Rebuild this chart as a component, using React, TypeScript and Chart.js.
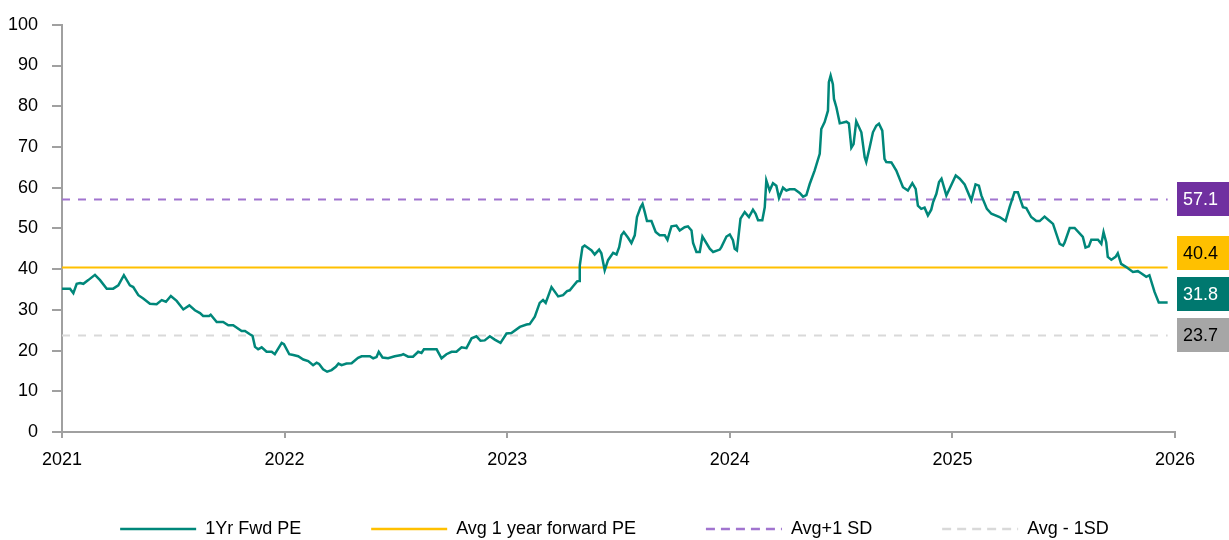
import React, { useEffect, useRef } from "react";
import { Chart, registerables } from "chart.js";

Chart.register(...registerables);

// ---- data ----
const xTickYears = [2021, 2022, 2023, 2024, 2025, 2026];
const yTickValues = [0, 10, 20, 30, 40, 50, 60, 70, 80, 90, 100];

const peDates = [
  2021.000, 2021.036, 2021.051, 2021.066, 2021.081, 2021.096, 2021.118, 2021.148, 2021.171, 2021.201,
  2021.230, 2021.253, 2021.278, 2021.305, 2021.320, 2021.343, 2021.365, 2021.395, 2021.425, 2021.448,
  2021.467, 2021.489, 2021.515, 2021.545, 2021.572, 2021.597, 2021.620, 2021.634, 2021.661, 2021.668,
  2021.695, 2021.724, 2021.747, 2021.769, 2021.807, 2021.822, 2021.844, 2021.856, 2021.867, 2021.881,
  2021.897, 2021.919, 2021.942, 2021.956, 2021.987, 2021.997, 2022.021, 2022.039, 2022.061, 2022.084,
  2022.106, 2022.128, 2022.144, 2022.155, 2022.173, 2022.191, 2022.211, 2022.230, 2022.242, 2022.256,
  2022.278, 2022.301, 2022.330, 2022.346, 2022.383, 2022.398, 2022.413, 2022.423, 2022.440, 2022.465,
  2022.495, 2022.525, 2022.533, 2022.555, 2022.577, 2022.600, 2022.615, 2022.626, 2022.683, 2022.705,
  2022.727, 2022.750, 2022.772, 2022.795, 2022.817, 2022.840, 2022.862, 2022.880, 2022.899, 2022.922,
  2022.944, 2022.970, 2022.997, 2023.019, 2023.057, 2023.087, 2023.101, 2023.124, 2023.146, 2023.161,
  2023.173, 2023.199, 2023.229, 2023.251, 2023.269, 2023.281, 2023.296, 2023.314, 2023.323, 2023.326,
  2023.338, 2023.348, 2023.379, 2023.393, 2023.413, 2023.423, 2023.438, 2023.453, 2023.476, 2023.491,
  2023.503, 2023.513, 2023.524, 2023.543, 2023.558, 2023.573, 2023.583, 2023.599, 2023.608, 2023.618,
  2023.628, 2023.648, 2023.667, 2023.685, 2023.708, 2023.720, 2023.730, 2023.738, 2023.760, 2023.775,
  2023.797, 2023.812, 2023.828, 2023.835, 2023.850, 2023.865, 2023.877, 2023.910, 2023.925, 2023.955,
  2023.962, 2023.985, 2024.000, 2024.014, 2024.022, 2024.032, 2024.048, 2024.067, 2024.086, 2024.104,
  2024.116, 2024.127, 2024.146, 2024.157, 2024.164, 2024.179, 2024.194, 2024.209, 2024.221, 2024.239,
  2024.254, 2024.269, 2024.291, 2024.314, 2024.329, 2024.344, 2024.359, 2024.381, 2024.404, 2024.411,
  2024.426, 2024.441, 2024.445, 2024.453, 2024.463, 2024.468, 2024.479, 2024.494, 2024.524, 2024.535,
  2024.542, 2024.546, 2024.556, 2024.568, 2024.591, 2024.606, 2024.613, 2024.628, 2024.643, 2024.658,
  2024.670, 2024.685, 2024.695, 2024.703, 2024.726, 2024.748, 2024.778, 2024.800, 2024.820, 2024.835,
  2024.845, 2024.860, 2024.875, 2024.890, 2024.905, 2024.913, 2024.928, 2024.940, 2024.951, 2024.973,
  2025.015, 2025.033, 2025.055, 2025.085, 2025.104, 2025.119, 2025.130, 2025.155, 2025.175, 2025.212,
  2025.239, 2025.257, 2025.279, 2025.294, 2025.317, 2025.332, 2025.354, 2025.377, 2025.392, 2025.414,
  2025.429, 2025.452, 2025.482, 2025.497, 2025.504, 2025.527, 2025.549, 2025.586, 2025.598, 2025.613,
  2025.624, 2025.654, 2025.669, 2025.679, 2025.691, 2025.698, 2025.714, 2025.733, 2025.743, 2025.758,
  2025.781, 2025.811, 2025.833, 2025.848, 2025.871, 2025.885, 2025.908, 2025.927, 2025.967,
];

const peValues = [
  35.2, 35.2, 34.1, 36.4, 36.6, 36.4, 37.3, 38.6, 37.3, 35.2,
  35.2, 36.0, 38.5, 36.0, 35.6, 33.6, 32.8, 31.5, 31.4, 32.4,
  32.0, 33.4, 32.2, 30.1, 31.1, 29.9, 29.2, 28.5, 28.5, 28.8,
  27.0, 27.0, 26.2, 26.2, 24.8, 24.8, 24.0, 23.6, 20.9, 20.3,
  20.8, 19.7, 19.7, 19.1, 21.9, 21.6, 19.1, 18.9, 18.6, 17.8,
  17.4, 16.4, 17.0, 16.7, 15.4, 14.8, 15.2, 16.0, 16.8, 16.4,
  16.8, 16.9, 18.2, 18.6, 18.6, 18.1, 18.4, 19.7, 18.3, 18.1,
  18.6, 18.9, 19.1, 18.5, 18.5, 19.7, 19.4, 20.3, 20.3, 18.1,
  19.1, 19.7, 19.7, 20.8, 20.6, 23.0, 23.5, 22.4, 22.5, 23.5,
  22.7, 21.9, 24.2, 24.3, 25.8, 26.4, 26.5, 28.3, 31.7, 32.4,
  31.7, 35.6, 33.3, 33.6, 34.6, 34.8, 35.8, 37.0, 37.1, 40.9,
  45.4, 45.8, 44.6, 43.6, 44.8, 43.9, 39.7, 42.2, 44.0, 43.6,
  45.4, 48.3, 49.1, 47.7, 46.4, 48.3, 52.8, 55.2, 56.0, 54.0,
  51.8, 51.8, 49.1, 48.3, 48.3, 47.2, 49.1, 50.5, 50.7, 49.5,
  50.3, 50.5, 49.5, 46.4, 44.2, 44.2, 48.0, 45.0, 44.2, 44.8,
  45.4, 48.0, 48.5, 47.1, 45.0, 44.6, 52.4, 54.0, 52.8, 54.6,
  53.6, 52.0, 52.0, 55.2, 61.8, 59.3, 61.1, 60.5, 57.5, 60.0,
  59.3, 59.6, 59.6, 58.7, 57.8, 58.2, 60.9, 64.2, 68.3, 74.4,
  76.1, 78.9, 85.9, 87.5, 85.4, 81.8, 79.7, 75.8, 76.2, 75.8,
  72.0, 69.8, 70.7, 76.3, 73.6, 67.5, 66.3, 69.8, 73.6, 75.2,
  75.7, 74.0, 67.1, 66.3, 66.2, 64.2, 60.1, 59.3, 61.1, 59.7,
  55.6, 54.8, 55.1, 53.2, 54.6, 56.4, 58.5, 61.4, 62.2, 58.1,
  63.0, 62.2, 60.8, 56.9, 60.8, 60.5, 58.1, 54.8, 53.6, 52.8,
  51.8, 55.2, 58.9, 58.9, 55.2, 55.0, 52.8, 51.8, 51.8, 52.9,
  52.2, 51.1, 46.2, 45.8, 46.5, 50.1, 50.1, 47.9, 45.3, 45.6,
  47.2, 47.2, 46.2, 49.1, 46.6, 43.0, 42.3, 43.0, 43.9, 41.3,
  40.5, 39.3, 39.5, 39.0, 38.1, 38.5, 34.4, 31.8, 31.8,
];

const avgPE = 40.4;
const plusOneSD = 57.1;
const minusOneSD = 23.7;
const latestPE = 31.8;

const seriesLabels = ["1Yr Fwd PE", "Avg 1 year forward PE", "Avg+1 SD", "Avg - 1SD"];

// ---- styles ----
const TEAL = "#00877A";
const TEAL_BOX = "#00786F";
const YELLOW = "#FFC000";
const PURPLE_LINE = "#A174CF";
const PURPLE_BOX = "#7030A0";
const GREY_LINE = "#D9D9D9";
const GREY_BOX = "#A6A6A6";
const AXIS = "#A0A0A0";
const FONT = "'Liberation Sans', Arial, sans-serif";

const valueBoxes = [
  { value: plusOneSD, bg: PURPLE_BOX, fg: "#FFFFFF" },
  { value: avgPE, bg: YELLOW, fg: "#000000" },
  { value: latestPE, bg: TEAL_BOX, fg: "#FFFFFF" },
  { value: minusOneSD, bg: GREY_BOX, fg: "#000000" },
];

const valueBoxPlugin = {
  id: "valueBoxes",
  afterDatasetsDraw(chart: any) {
    const { ctx, chartArea } = chart;
    const yScale = chart.scales.y;
    const boxH = 34;
    const gap = 41;
    const items = valueBoxes
      .map((b) => ({ ...b, py: yScale.getPixelForValue(b.value) }))
      .sort((a, b) => a.value - b.value);
    for (let i = 1; i < items.length; i++) {
      if (items[i].py > items[i - 1].py - gap) items[i].py = items[i - 1].py - gap;
    }
    const x = chartArea.right + 2;
    ctx.save();
    ctx.font = `18px ${FONT}`;
    ctx.textBaseline = "middle";
    ctx.textAlign = "left";
    items.forEach((it) => {
      ctx.fillStyle = it.bg;
      ctx.fillRect(x, Math.round(it.py - boxH / 2), chart.width - x, boxH);
      ctx.fillStyle = it.fg;
      ctx.fillText(it.value.toFixed(1), x + 6, it.py + 1);
    });
    ctx.restore();
  },
};

export default function App() {
  const canvasRef = useRef<HTMLCanvasElement | null>(null);

  useEffect(() => {
    document.body.style.margin = "0";
    const canvas = canvasRef.current;
    if (!canvas) return;
    const seriesStart = peDates[0];
    const seriesEnd = peDates[peDates.length - 1];
    const flat = (v: number) => [
      { x: seriesStart, y: v },
      { x: seriesEnd, y: v },
    ];

    const chart = new Chart(canvas, {
      type: "line",
      data: {
        datasets: [
          {
            label: seriesLabels[0],
            data: peDates.map((d, i) => ({ x: d, y: peValues[i] })),
            borderColor: TEAL,
            backgroundColor: TEAL,
            borderWidth: 2.5,
            pointRadius: 0,
            tension: 0,
          },
          {
            label: seriesLabels[1],
            data: flat(avgPE),
            borderColor: YELLOW,
            backgroundColor: YELLOW,
            borderWidth: 2,
            pointRadius: 0,
          },
          {
            label: seriesLabels[2],
            data: flat(plusOneSD),
            borderColor: PURPLE_LINE,
            backgroundColor: PURPLE_LINE,
            borderWidth: 2,
            borderDash: [8, 8],
            pointRadius: 0,
          },
          {
            label: seriesLabels[3],
            data: flat(minusOneSD),
            borderColor: GREY_LINE,
            backgroundColor: GREY_LINE,
            borderWidth: 2,
            borderDash: [8, 8],
            pointRadius: 0,
          },
        ],
      },
      options: {
        animation: false,
        responsive: false,
        events: [],
        layout: { padding: { top: 24, right: 0, left: 0, bottom: -8 } },
        scales: {
          x: {
            type: "linear",
            min: xTickYears[0],
            max: xTickYears[xTickYears.length - 1],
            afterBuildTicks: (s: any) => {
              s.ticks = xTickYears.map((v) => ({ value: v }));
            },
            afterFit: (s: any) => {
              s.height = 18;
              // let the year labels extend below this compact axis box
              s._computeLabelArea = () => undefined;
            },
            ticks: {
              callback: (v: any) => String(v),
              font: { family: FONT, size: 18 },
              color: "#000000",
              padding: 11,
              maxRotation: 0,
              autoSkip: false,
            },
            grid: { display: true, drawOnChartArea: false, drawTicks: true, tickLength: 6, color: AXIS, lineWidth: 2 },
            border: { display: true, color: AXIS, width: 2 },
          },
          y: {
            type: "linear",
            position: "left",
            min: yTickValues[0],
            max: yTickValues[yTickValues.length - 1],
            afterBuildTicks: (s: any) => {
              s.ticks = yTickValues.map((v) => ({ value: v }));
            },
            afterFit: (s: any) => {
              s.width = 62;
            },
            ticks: {
              callback: (v: any) => String(v),
              font: { family: FONT, size: 18 },
              color: "#000000",
              padding: 14,
            },
            grid: { display: true, drawOnChartArea: false, drawTicks: true, tickLength: 10, color: AXIS, lineWidth: 2 },
            border: { display: true, color: AXIS, width: 2 },
          },
          yRight: {
            type: "linear",
            position: "right",
            display: true,
            min: 0,
            max: 100,
            afterFit: (s: any) => {
              s.width = 54;
            },
            ticks: { display: false },
            grid: { display: false },
            border: { display: false },
          },
        },
        plugins: {
          tooltip: { enabled: false },
          legend: {
            display: true,
            position: "bottom",
            align: "center",
            labels: {
              usePointStyle: true,
              pointStyle: "line",
              pointStyleWidth: 76,
              padding: 70,
              color: "#000000",
              font: { family: FONT, size: 18 },
              generateLabels: (c: any) => {
                const items = (Chart.defaults.plugins.legend.labels as any).generateLabels(c);
                items.forEach((it: any, i: number) => {
                  const ds: any = c.data.datasets[i];
                  it.strokeStyle = ds.borderColor;
                  it.fillStyle = ds.borderColor;
                  it.lineWidth = 2.5;
                  it.lineDash = ds.borderDash ? [9, 6] : [];
                });
                return items;
              },
            },
          },
        },
      },
      plugins: [valueBoxPlugin],
    } as any);

    return () => chart.destroy();
  }, []);

  return (
    <div style={{ width: 1229, height: 540 }}>
      <canvas ref={canvasRef} width={1229} height={540} style={{ display: "block" }} />
    </div>
  );
}
